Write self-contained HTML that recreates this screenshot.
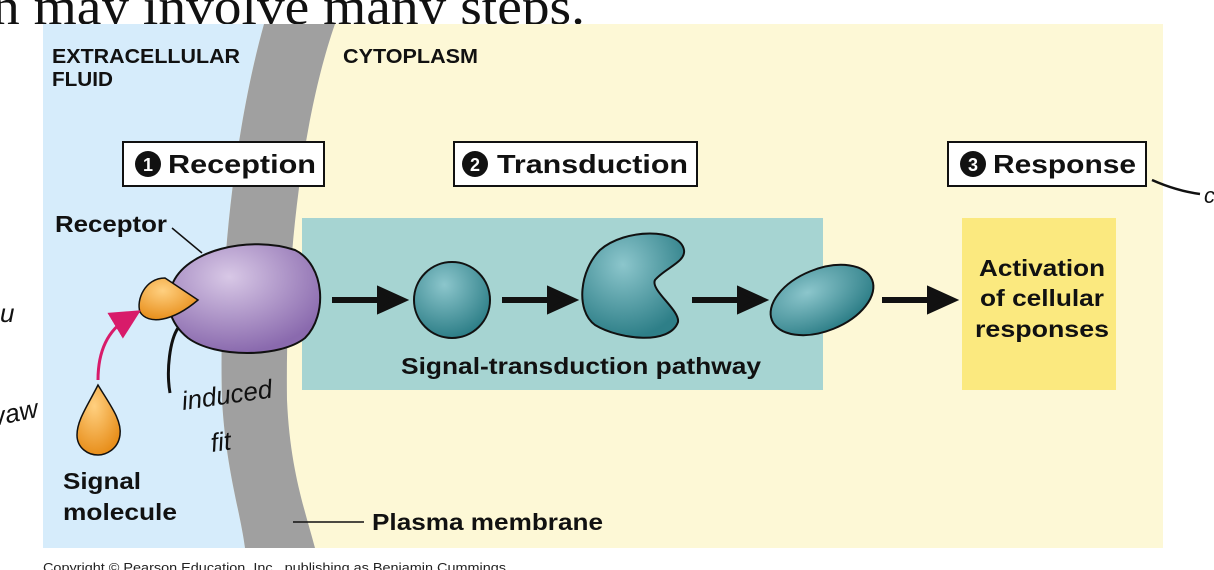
<!DOCTYPE html>
<html><head><meta charset="utf-8"><style>
html,body{margin:0;padding:0;background:#fff;width:1214px;height:570px;overflow:hidden}
svg{display:block}
.b{font-family:"Liberation Sans",Arial,sans-serif;font-weight:bold;fill:#111}
.h{font-family:"Liberation Sans",sans-serif;font-style:italic;fill:#111}
</style></head><body>
<svg width="1214" height="570" viewBox="0 0 1214 570">
<defs>
<radialGradient id="pg" cx="0.4" cy="0.3" r="0.7"><stop offset="0" stop-color="#d8c8e6"/><stop offset="1" stop-color="#8a6aae"/></radialGradient>
<radialGradient id="tg" cx="0.4" cy="0.3" r="0.7"><stop offset="0" stop-color="#8cc6cc"/><stop offset="1" stop-color="#2e7f88"/></radialGradient>
<radialGradient id="og" cx="0.4" cy="0.3" r="0.7"><stop offset="0" stop-color="#ffd080"/><stop offset="1" stop-color="#e88f1c"/></radialGradient>
<marker id="ah" markerWidth="10" markerHeight="10" refX="5" refY="5" orient="auto"><path d="M0,0 L10,5 L0,10 z" fill="#d81b6a"/></marker>
</defs>
<text x="-8" y="24" font-family="Liberation Serif,serif" font-size="52" fill="#111" textLength="593" lengthAdjust="spacingAndGlyphs">n may involve many steps.</text>
<rect x="43" y="24" width="1120" height="524" fill="#fdf8d6"/>
<path d="M43,24 L264,24 C240,110 218,250 222,400 C226,470 240,510 245,548 L43,548 z" fill="#d6ecfb"/>
<path d="M264,24 L335,24 C305,110 285,250 287,400 C290,470 305,510 315,548 L245,548 C240,510 226,470 222,400 C218,250 240,110 264,24 z" fill="#a0a0a0"/>
<text class="b" x="52" y="63" font-size="20" textLength="188" lengthAdjust="spacingAndGlyphs">EXTRACELLULAR</text>
<text class="b" x="52" y="86" font-size="20" textLength="61" lengthAdjust="spacingAndGlyphs">FLUID</text>
<text class="b" x="343" y="63" font-size="20" textLength="135" lengthAdjust="spacingAndGlyphs">CYTOPLASM</text>
<rect x="123" y="142" width="201" height="44" fill="#fff" stroke="#111" stroke-width="2"/>
<circle cx="148" cy="164" r="13" fill="#111"/><text x="148" y="171" text-anchor="middle" font-family="Liberation Sans" font-weight="bold" font-size="18" fill="#fff">1</text>
<text class="b" x="168" y="173" font-size="26" textLength="148" lengthAdjust="spacingAndGlyphs">Reception</text>
<rect x="454" y="142" width="243" height="44" fill="#fff" stroke="#111" stroke-width="2"/>
<circle cx="475" cy="164" r="13" fill="#111"/><text x="475" y="171" text-anchor="middle" font-family="Liberation Sans" font-weight="bold" font-size="18" fill="#fff">2</text>
<text class="b" x="497" y="173" font-size="26" textLength="191" lengthAdjust="spacingAndGlyphs">Transduction</text>
<rect x="948" y="142" width="198" height="44" fill="#fff" stroke="#111" stroke-width="2"/>
<circle cx="973" cy="164" r="13" fill="#111"/><text x="973" y="171" text-anchor="middle" font-family="Liberation Sans" font-weight="bold" font-size="18" fill="#fff">3</text>
<text class="b" x="993" y="173" font-size="26" textLength="143" lengthAdjust="spacingAndGlyphs">Response</text>
<rect x="302" y="218" width="521" height="172" fill="#a6d4d2"/>
<rect x="962" y="218" width="154" height="172" fill="#fbe97f"/>
<text class="b" x="1042" y="276" font-size="23" text-anchor="middle" textLength="126" lengthAdjust="spacingAndGlyphs">Activation</text>
<text class="b" x="1042" y="306" font-size="23" text-anchor="middle" textLength="124" lengthAdjust="spacingAndGlyphs">of cellular</text>
<text class="b" x="1042" y="337" font-size="23" text-anchor="middle" textLength="134" lengthAdjust="spacingAndGlyphs">responses</text>
<path d="M172,285 C185,250 250,235 295,250 C325,265 328,315 305,338 C280,358 215,358 188,338 C168,322 165,300 172,285 z" fill="url(#pg)" stroke="#111" stroke-width="2"/>
<path d="M198,300 L165,278 C145,278 136,300 140,312 C148,325 172,322 198,300 z" fill="url(#og)" stroke="#111" stroke-width="1.5"/>
<text class="b" x="55" y="232" font-size="23" textLength="112" lengthAdjust="spacingAndGlyphs">Receptor</text>
<line x1="172" y1="228" x2="202" y2="253" stroke="#111" stroke-width="1.5"/>
<g stroke="#111" stroke-width="6" fill="#111">
<line x1="332" y1="300" x2="385" y2="300"/><path d="M380,290 L402,300 L380,310 z"/>
<line x1="502" y1="300" x2="555" y2="300"/><path d="M550,290 L572,300 L550,310 z"/>
<line x1="692" y1="300" x2="745" y2="300"/><path d="M740,290 L762,300 L740,310 z"/>
<line x1="882" y1="300" x2="935" y2="300"/><path d="M930,290 L952,300 L930,310 z"/>
</g>
<circle cx="452" cy="300" r="38" fill="url(#tg)" stroke="#111" stroke-width="2"/>
<path d="M600,250 C625,228 680,228 684,250 C686,262 665,268 655,280 C650,290 680,310 678,322 C670,345 620,340 595,325 C575,310 580,270 600,250 z" fill="url(#tg)" stroke="#111" stroke-width="2"/>
<ellipse cx="822" cy="300" rx="54" ry="31" transform="rotate(-22 822 300)" fill="url(#tg)" stroke="#111" stroke-width="2"/>
<text class="b" x="581" y="374" font-size="23" text-anchor="middle" textLength="360" lengthAdjust="spacingAndGlyphs">Signal-transduction pathway</text>
<path d="M98,385 C110,405 122,420 120,435 C118,450 105,455 98,455 C88,455 77,448 77,435 C77,420 88,405 98,385 z" fill="url(#og)" stroke="#111" stroke-width="1.5"/>
<path d="M98,380 C98,350 108,330 128,318" fill="none" stroke="#d81b6a" stroke-width="3" marker-end="url(#ah)"/>
<text class="b" x="63" y="489" font-size="23" textLength="78" lengthAdjust="spacingAndGlyphs">Signal</text>
<text class="b" x="63" y="520" font-size="23" textLength="114" lengthAdjust="spacingAndGlyphs">molecule</text>
<line x1="293" y1="522" x2="364" y2="522" stroke="#111" stroke-width="1.5"/>
<text class="b" x="372" y="530" font-size="23" textLength="231" lengthAdjust="spacingAndGlyphs">Plasma membrane</text>
<path d="M178,328 C170,340 166,370 170,393" fill="none" stroke="#111" stroke-width="3"/>
<text class="h" x="183" y="410" font-size="26" transform="rotate(-8 183 410)">induced</text>
<text class="h" x="212" y="452" font-size="26" transform="rotate(-8 212 452)">fit</text>
<text class="h" x="-6" y="425" font-size="26" transform="rotate(-12 0 425)">vaw</text>
<text class="h" x="0" y="322" font-size="26">u</text>
<path d="M1152,180 C1170,188 1185,192 1200,194" fill="none" stroke="#111" stroke-width="2.5"/>
<text class="h" x="1204" y="203" font-size="22">c</text>
<text x="43" y="572" font-family="Liberation Sans" font-size="13" fill="#222" textLength="467" lengthAdjust="spacingAndGlyphs">Copyright © Pearson Education, Inc., publishing as Benjamin Cummings.</text>
</svg>
</body></html>
